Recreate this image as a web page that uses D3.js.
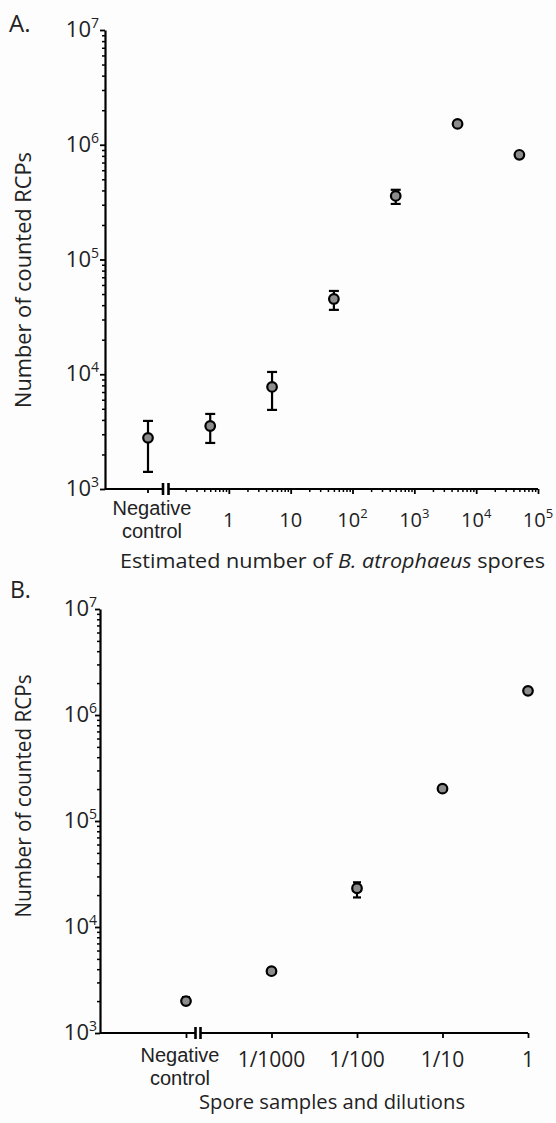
<!DOCTYPE html>
<html>
<head>
<meta charset="utf-8">
<script src="https://cdn.jsdelivr.net/npm/d3@7"></script>
<style>
  body { margin: 0; background: #fdfdfe; }
  text { font-family: 'Open Sans', sans-serif; fill: #222; }
</style>
</head>
<body>
<script>
// ---- panel A data ----
const sporesA = [0.5, 5, 50, 500, 5000, 50000]
const countsA = [3540, 7750, 45300, 358000, 1520000, 817000]
const lowA = [2520, 4890, 36400, 305000, null, null]
const highA = [4510, 10470, 53200, 405000, null, null]
const negA = { mean: 2790, low: 1410, high: 3920 }
const xTicksA = [1, 10, 100, 1000, 10000, 100000]
const xTickLabelsA = [['1', ''], ['10', ''], ['10', '2'], ['10', '3'], ['10', '4'], ['10', '5']]

// ---- panel B data ----
const dilutions = ['Negative control', '1/1000', '1/100', '1/10', '1']
const countsB = [2000, 3830, 23200, 202000, 1690000]
const lowB = [1875, null, 19000, null, null]
const highB = [2180, null, 26400, null, null]

// ---- shared y ticks ----
const yTicks = [1e3, 1e4, 1e5, 1e6, 1e7]
const yTickExp = ['3', '4', '5', '6', '7']

function minorTicks(lo, hi) {
  let out = []
  for (let e = lo; e < hi; e++)
    for (let k = 2; k <= 9; k++) out.push(k * Math.pow(10, e))
  return out
}

let svg = d3.select('body')
  .append('svg')
  .attr('width', 556)
  .attr('height', 1123)

function supText(g, x, y, base, sup, anchor, size, supSize) {
  let t = g.append('text')
    .attr('x', x)
    .attr('y', y)
    .attr('text-anchor', anchor)
    .style('font-size', size + 'px')
  t.append('tspan').text(base)
  if (sup) t.append('tspan').attr('dy', -9).style('font-size', supSize + 'px').text(sup)
  return t
}

// two-line "Negative / control" label (tighter font so lines don't collide)
function negLabel(g, x, y, gap) {
  ;['Negative', 'control'].forEach((s, i) => {
    g.append('text')
      .attr('x', x)
      .attr('y', y + i * gap)
      .attr('text-anchor', 'middle')
      .style('font-family', "'Liberation Sans', sans-serif")
      .style('font-size', '20px')
      .text(s)
  })
}

function yAxis(g, y, x0, labelRight, lenMaj) {
  g.append('g')
    .attr('transform', 'translate(' + x0 + ',0)')
    .call(d3.axisLeft(y).tickValues(minorTicks(3, 7)).tickSize(3).tickFormat(''))
    .call(a => a.select('.domain').remove())
    .call(a => a.selectAll('line').attr('stroke', '#000').attr('stroke-width', 1.5))
  g.append('g')
    .attr('transform', 'translate(' + x0 + ',0)')
    .call(d3.axisLeft(y).tickValues(yTicks).tickSize(lenMaj).tickSizeOuter(0).tickFormat(''))
    .call(a => a.select('.domain').attr('stroke', '#000').attr('stroke-width', 2.2))
    .call(a => a.selectAll('line').attr('stroke', '#000').attr('stroke-width', 1.8))
  yTicks.forEach((v, i) => {
    supText(g, labelRight, y(v) + 7, '10', yTickExp[i], 'end', 22, 14)
  })
}

function points(g, xs, ys, lows, highs, yScale, cap) {
  xs.forEach((x, i) => {
    if (lows[i] != null) {
      let y1 = yScale(lows[i]), y2 = yScale(highs[i])
      g.append('line').attr('x1', x).attr('x2', x).attr('y1', y1).attr('y2', y2)
        .attr('stroke', '#000').attr('stroke-width', 2.2)
      ;[y1, y2].forEach(yy => {
        g.append('line').attr('x1', x - cap).attr('x2', x + cap).attr('y1', yy).attr('y2', yy)
          .attr('stroke', '#000').attr('stroke-width', 2.2)
      })
    }
    g.append('circle').attr('cx', x).attr('cy', yScale(ys[i])).attr('r', 4.8)
      .attr('fill', '#8c8c8c').attr('stroke', '#000').attr('stroke-width', 2.2)
  })
}

function breakMarks(g, xa, xb, y0, left) {
  g.append('line').attr('x1', left).attr('x2', xa).attr('y1', y0).attr('y2', y0)
    .attr('stroke', '#000').attr('stroke-width', 2.2)
  ;[xa, xb].forEach(x => {
    g.append('line').attr('x1', x).attr('x2', x).attr('y1', y0 - 6).attr('y2', y0 + 6)
      .attr('stroke', '#000').attr('stroke-width', 2.6)
  })
}

// ================= Panel A =================
~function() {
  let g = svg.append('g')
  let y = d3.scaleLog().domain([1e3, 1e7]).range([489, 30])
  let x = d3.scaleLog().domain([0.1, 1e5]).range([167, 538])
  let xNeg = 148

  g.append('text').attr('x', 9).attr('y', 32).style('font-size', '24px').text('A.')

  yAxis(g, y, 105, 99, 5)

  // x axis: short segment, break, then log segment
  breakMarks(g, 163, 168.5, 489, 105)
  g.append('line').attr('x1', xNeg).attr('x2', xNeg).attr('y1', 489).attr('y2', 493)
    .attr('stroke', '#000').attr('stroke-width', 1.8)
  g.append('g')
    .attr('transform', 'translate(0,489)')
    .call(d3.axisBottom(x).tickValues(minorTicks(-1, 5)).tickSize(3).tickFormat(''))
    .call(a => a.select('.domain').remove())
    .call(a => a.selectAll('line').attr('stroke', '#000').attr('stroke-width', 1.5))
  g.append('g')
    .attr('transform', 'translate(0,489)')
    .call(d3.axisBottom(x).tickValues(xTicksA).tickSize(5).tickFormat(''))
    .call(a => a.select('.domain').attr('d', 'M168.5,0H538').attr('stroke', '#000').attr('stroke-width', 2.2))
    .call(a => a.selectAll('line').attr('stroke', '#000').attr('stroke-width', 1.8))

  xTicksA.forEach((v, i) => {
    supText(g, x(v), 527, xTickLabelsA[i][0], xTickLabelsA[i][1], 'middle', 20, 13)
  })
  negLabel(g, 152, 515, 23)

  let t = g.append('text').attr('x', 120).attr('y', 568)
    .attr('textLength', 425).attr('lengthAdjust', 'spacingAndGlyphs')
    .style('font-size', '20px')
  t.append('tspan').text('Estimated number of ')
  t.append('tspan').style('font-style', 'italic').text('B. atrophaeus')
  t.append('tspan').text(' spores')

  g.append('text')
    .attr('transform', 'translate(31,280)rotate(-90)')
    .attr('text-anchor', 'middle')
    .attr('textLength', 256).attr('lengthAdjust', 'spacingAndGlyphs')
    .style('font-size', '21px')
    .text('Number of counted RCPs')

  points(g, [xNeg], [negA.mean], [negA.low], [negA.high], y, 5)
  points(g, sporesA.map(d => x(d)), countsA, lowA, highA, y, 5)
}()

// ================= Panel B =================
~function() {
  let g = svg.append('g')
  let y = d3.scaleLog().domain([1e3, 1e7]).range([1033, 609])
  let x = d3.scalePoint().domain(dilutions).range([186, 528])

  g.append('text').attr('x', 10).attr('y', 598).style('font-size', '23px').text('B.')

  yAxis(g, y, 100, 97, 5)

  breakMarks(g, 195.5, 200.5, 1033, 100)
  g.append('g')
    .attr('transform', 'translate(0,1033)')
    .call(d3.axisBottom(x).tickSize(5).tickFormat(''))
    .call(a => a.select('.domain').attr('d', 'M200.5,0H528').attr('stroke', '#000').attr('stroke-width', 2.2))
    .call(a => a.selectAll('line').attr('stroke', '#000').attr('stroke-width', 1.8))

  dilutions.slice(1).forEach(d => {
    g.append('text').attr('x', x(d)).attr('y', 1067).attr('text-anchor', 'middle')
      .style('font-size', '21px').text(d)
  })
  negLabel(g, 180, 1062, 23)

  g.append('text').attr('x', 199).attr('y', 1109)
    .attr('textLength', 266).attr('lengthAdjust', 'spacingAndGlyphs')
    .style('font-size', '20px')
    .text('Spore samples and dilutions')

  g.append('text')
    .attr('transform', 'translate(31,796)rotate(-90)')
    .attr('text-anchor', 'middle')
    .attr('textLength', 243).attr('lengthAdjust', 'spacingAndGlyphs')
    .style('font-size', '21px')
    .text('Number of counted RCPs')

  points(g, dilutions.map(d => x(d)), countsB, lowB, highB, y, 4)
}()
</script>
</body>
</html>
